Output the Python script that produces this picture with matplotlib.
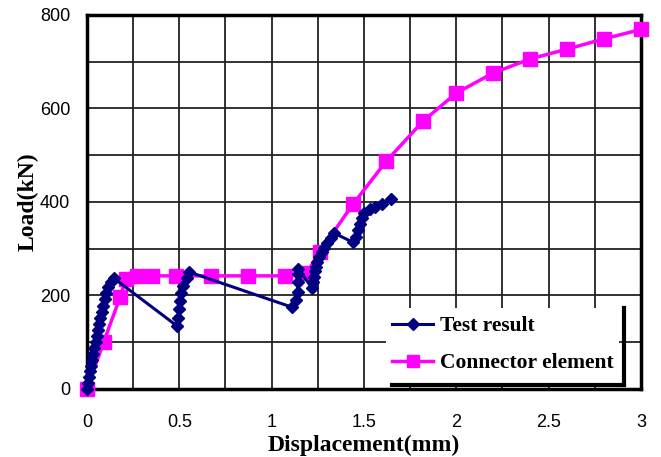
import matplotlib.pyplot as plt
from matplotlib.lines import Line2D

# test curve (displacement mm, load kN)
test_disp = [0, 0.005, 0.01, 0.015, 0.02, 0.027, 0.033, 0.04, 0.047, 0.053, 0.06, 0.067,
             0.073, 0.08, 0.087, 0.095, 0.105, 0.115, 0.13, 0.145,
             0.487, 0.495, 0.50, 0.505, 0.51, 0.52, 0.54, 0.555,
             1.11, 1.13, 1.14, 1.14, 1.14, 1.145,
             1.22, 1.225, 1.23, 1.235, 1.24, 1.245, 1.255, 1.27, 1.285, 1.30, 1.32, 1.34,
             1.44, 1.455, 1.47, 1.48, 1.49, 1.50, 1.53, 1.56, 1.60, 1.645]
test_load = [0, 12, 25, 38, 50, 62, 75, 88, 100, 113, 126, 139,
             152, 165, 178, 192, 205, 218, 228, 237,
             135, 152, 171, 188, 205, 220, 237, 250,
             175, 190, 208, 228, 245, 257,
             215, 228, 240, 252, 262, 272, 282, 292, 302, 312, 322, 333,
             314, 326, 340, 353, 366, 376, 384, 390, 396, 406]

# connector element model
conn_disp = [0, 0.09, 0.18, 0.21, 0.27, 0.35, 0.48, 0.67, 0.87, 1.07, 1.19, 1.26,
             1.44, 1.62, 1.82, 2.0, 2.2, 2.4, 2.6, 2.8, 3.0]
conn_load = [0, 100, 197, 235, 242, 242, 242, 242, 242, 242, 248, 293,
             395, 487, 573, 633, 676, 706, 727, 749, 769]

xticks = [0, 0.5, 1, 1.5, 2, 2.5, 3]
xtick_labels = ["0", "0.5", "1", "1.5", "2", "2.5", "3"]
yticks = [0, 200, 400, 600, 800]

navy = "#000080"
magenta = "#ff00ff"

fig = plt.figure(figsize=(6.61, 4.57), dpi=100)
ax = fig.add_axes([0.1316, 0.1488, 0.8381, 0.8184])

# grid every 0.25 mm / 100 kN
for gx in [i * 0.25 for i in range(1, 12)]:
    ax.axvline(gx, color="#222222", lw=1.3, zorder=1)
for gy in range(100, 800, 100):
    ax.axhline(gy, color="#222222", lw=1.3, zorder=1)

ax.plot(test_disp, test_load, color=navy, lw=2.2, marker="D", ms=6.5,
        markeredgecolor=navy, zorder=4, clip_on=False)
ax.plot(conn_disp, conn_load, color=magenta, lw=2.5, marker="s", ms=10,
        markeredgecolor=magenta, zorder=3, clip_on=False)

ax.set_xlim(0, 3)
ax.set_ylim(0, 800)
ax.set_xticks(xticks)
ax.set_xticklabels(xtick_labels)
ax.set_yticks(yticks)
ax.tick_params(direction="in", length=0, labelsize=13)
for lab in ax.get_xticklabels() + ax.get_yticklabels():
    lab.set_family("Liberation Sans")
ax.tick_params(axis="x", pad=18)
ax.tick_params(axis="y", pad=12)
for s in ax.spines.values():
    s.set_linewidth(2.5)
    s.set_color("black")

ax.set_xlabel("Displacement(mm)", family="Liberation Serif", fontweight="bold",
              fontsize=17, labelpad=3)
ax.set_ylabel("Load(kN)", family="Liberation Serif", fontweight="bold",
              fontsize=17)
ax.yaxis.set_label_coords(-0.088, 0.5)

# legend box with drop shadow on right and bottom
x0, x1, y0, y1 = 0.55, 0.97, 0.011, 0.217
ax.add_patch(plt.Rectangle((x0 - 0.01, y0), x1 - x0, y1 - y0, transform=ax.transAxes,
                           facecolor="white", edgecolor="none", zorder=5))
ax.add_line(Line2D([x1, x1], [y0, y1], transform=ax.transAxes, color="black",
                   lw=3, zorder=6))
ax.add_line(Line2D([x0, x1], [y0, y0], transform=ax.transAxes, color="black",
                   lw=3, zorder=6))
handles = [Line2D([], [], color=navy, lw=2.2, marker="D", ms=6.5),
           Line2D([], [], color=magenta, lw=2.5, marker="s", ms=9)]
leg = ax.legend(handles, ["Test result", "Connector element"], loc="lower left",
                bbox_to_anchor=(x0 - 0.022, y0 - 0.004), frameon=False,
                prop={"family": "Liberation Serif", "weight": "bold", "size": 15.5},
                handlelength=1.9, handletextpad=0.3, labelspacing=0.8,
                borderaxespad=0.2)
leg.set_zorder(7)

fig.savefig("out.png", dpi=100)
